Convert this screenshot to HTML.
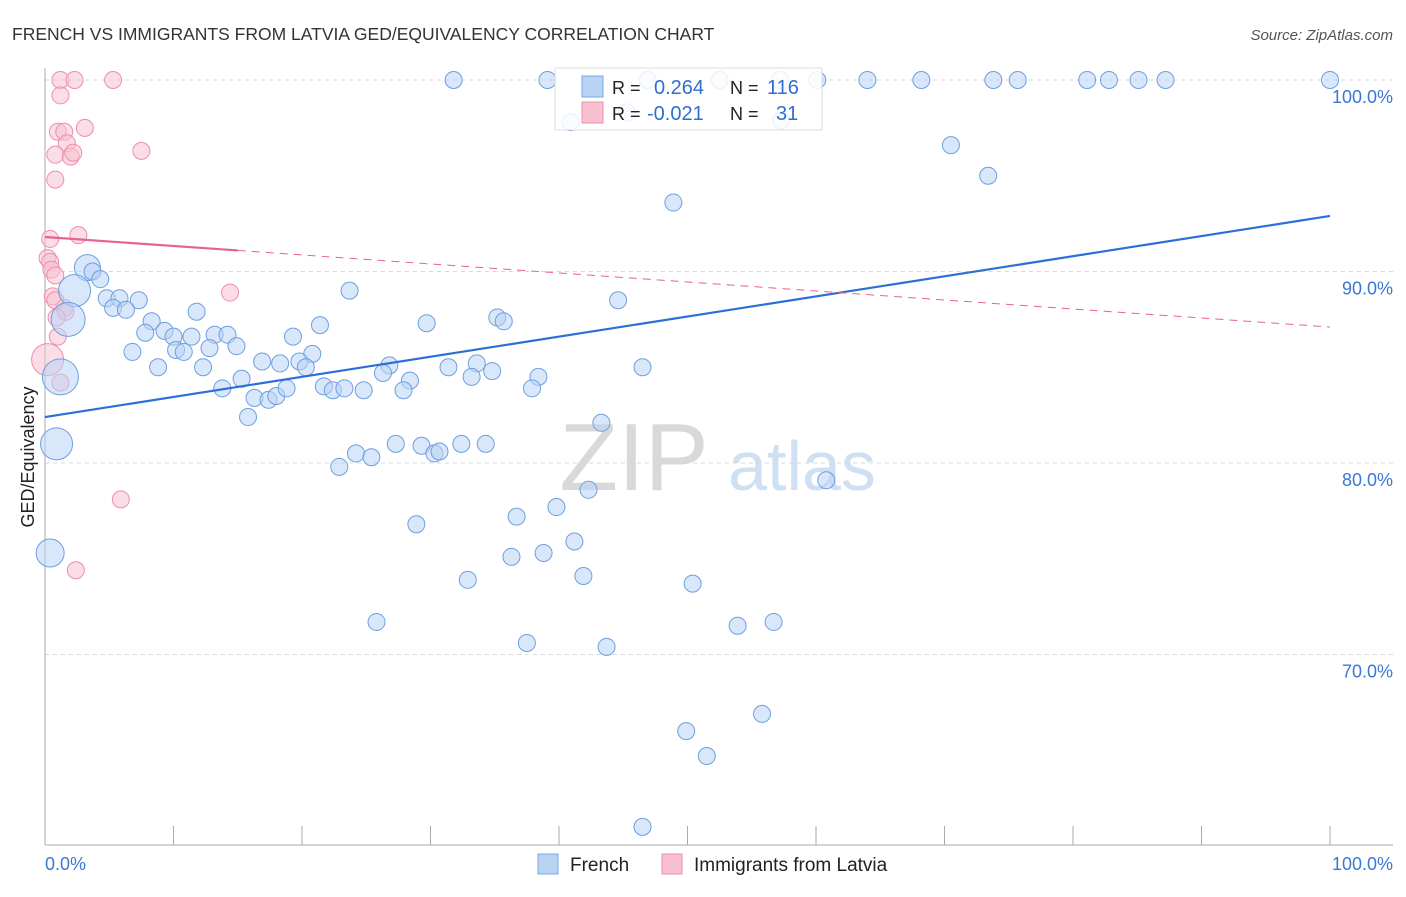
<!DOCTYPE html>
<html><head><meta charset="utf-8">
<style>
body{margin:0;background:#fff;font-family:"Liberation Sans",sans-serif;}
svg text{font-family:"Liberation Sans",sans-serif;}
</style></head>
<body>
<svg id="chart" width="1406" height="892" xmlns="http://www.w3.org/2000/svg">
<text x="12" y="40" font-size="17.5" fill="#333">FRENCH VS IMMIGRANTS FROM LATVIA GED/EQUIVALENCY CORRELATION CHART</text>
<text x="1393" y="40" font-size="15" fill="#555" font-style="italic" text-anchor="end">Source: ZipAtlas.com</text>
<text x="634" y="490" font-size="96" fill="#d9d9d9" text-anchor="middle" font-family="Liberation Serif">ZIP</text>
<text x="802" y="490" font-size="70" fill="#cfe0f3" text-anchor="middle">atlas</text>
<text transform="translate(34,457) rotate(-90)" font-size="18" fill="#222" text-anchor="middle">GED/Equivalency</text>
<g id="grid"></g><g id="axes"></g><g id="pts"></g><g id="trend"></g>
<g>
<rect x="555" y="68" width="267" height="62" fill="#fff" fill-opacity="0.85" stroke="#ddd"/>
<rect x="582" y="76" width="21" height="21" fill="#b9d3f5" stroke="#7aa7e3"/>
<rect x="582" y="102" width="21" height="21" fill="#f8c1d2" stroke="#ee8eac"/>
<text x="612" y="94" font-size="18" fill="#222">R = <tspan fill="#2f6fd0" font-size="20" x="654">0.264</tspan></text>
<text x="730" y="94" font-size="18" fill="#222">N = <tspan fill="#2f6fd0" font-size="20" x="767">116</tspan></text>
<text x="612" y="120" font-size="18" fill="#222">R = <tspan fill="#2f6fd0" font-size="20" x="647">-0.021</tspan></text>
<text x="730" y="120" font-size="18" fill="#222">N = <tspan fill="#2f6fd0" font-size="20" x="776">31</tspan></text>
</g>
<g>
<rect x="538" y="854" width="20" height="20" fill="#b9d3f5" stroke="#7aa7e3"/>
<text x="570" y="871" font-size="19" fill="#222">French</text>
<rect x="662" y="854" width="20" height="20" fill="#f8c1d2" stroke="#ee8eac"/>
<text x="694" y="871" font-size="19" fill="#222">Immigrants from Latvia</text>
</g>
</svg>
<script>
const blueX=[31.8,39.1,46.9,52.5,57.2,60.1,64.0,68.2,73.8,75.7,81.1,82.8,85.1,87.2,100,40.9,45.3,57.3,70.5,73.4,48.9,3.3,3.7,4.3,2.3,4.8,5.8,7.3,5.3,6.3,1.8,11.8,8.3,9.3,7.8,10.0,11.4,13.2,14.2,19.3,21.4,23.7,29.7,35.2,35.7,44.6,6.8,10.2,10.8,12.8,14.9,20.8,16.9,18.3,19.8,20.3,8.8,12.3,15.3,26.8,26.3,28.4,31.4,33.6,34.8,33.2,38.4,46.5,1.2,13.8,16.3,17.4,18.0,18.8,21.7,22.4,23.3,24.8,27.9,37.9,15.8,0.9,24.2,25.4,22.9,27.3,29.3,30.3,30.7,32.4,34.3,43.3,42.3,39.8,36.7,28.9,41.2,38.8,36.3,0.4,32.9,41.9,50.4,25.8,53.9,56.7,37.5,43.7,49.9,55.8,51.5,46.5,60.8];
const blueY=[100,100,100,100,100,100,100,100,100,100,100,100,100,100,100,97.8,98.3,97.9,96.6,95.0,93.6,90.2,90.0,89.6,89.0,88.6,88.6,88.5,88.1,88.0,87.5,87.9,87.4,86.9,86.8,86.6,86.6,86.7,86.7,86.6,87.2,89.0,87.3,87.6,87.4,88.5,85.8,85.9,85.8,86.0,86.1,85.7,85.3,85.2,85.3,85.0,85.0,85.0,84.4,85.1,84.7,84.3,85.0,85.2,84.8,84.5,84.5,85.0,84.5,83.9,83.4,83.3,83.5,83.9,84.0,83.8,83.9,83.8,83.8,83.9,82.4,81.0,80.5,80.3,79.8,81.0,80.9,80.5,80.6,81.0,81.0,82.1,78.6,77.7,77.2,76.8,75.9,75.3,75.1,75.3,73.9,74.1,73.7,71.7,71.5,71.7,70.6,70.4,66.0,66.9,64.7,61.0,79.1];
const blueBig={21:13,24:16,30:17,68:18,81:16,99:14};
const pinkX=[1.2,2.3,5.3,1.2,1.0,1.5,3.1,1.7,0.8,2.0,2.2,7.5,0.8,0.4,2.6,0.2,0.4,0.5,0.8,0.6,1.5,1.6,0.9,1.0,14.4,0.2,1.2,5.9,2.4,0.8];
const pinkY=[100,100,100,99.2,97.3,97.3,97.5,96.7,96.1,96.0,96.2,96.3,94.8,91.7,91.9,90.7,90.5,90.1,89.8,88.7,88.1,87.9,87.6,86.6,88.9,85.4,84.2,78.1,74.4,88.5];
const pinkBig={25:16};
const yTicks=[100,90,80,70];
const blueTrend=[0,82.4,100,92.9];
const pinkTrend=[0,91.8,15,91.1,100,87.1];
const xs=v=>45+v*12.85, ys=v=>80+(100-v)*19.15;
const NS="http://www.w3.org/2000/svg";
function mk(tag,attrs,parent){const e=document.createElementNS(NS,tag);for(const k in attrs)e.setAttribute(k,attrs[k]);document.getElementById(parent).appendChild(e);return e;}
yTicks.forEach(t=>{
 const l=mk('line',{x1:45,x2:1393,y1:ys(t),y2:ys(t),stroke:'#d8d8d8','stroke-dasharray':'4,4'},'grid');
 
 
 const tx=mk('text',{x:1393,y:ys(t)+23,'font-size':18,fill:'#3a78d4','text-anchor':'end'},'grid');
 tx.textContent=t.toFixed(1)+'%';
 
 
});
let a=mk('line',{x1:45,x2:45,y1:68,y2:845,stroke:'#aaa'},'axes');


a=mk('line',{x1:45,x2:1393,y1:845,y2:845,stroke:'#aaa'},'axes');


for(let i=1;i<=10;i++){const t=mk('line',{x1:xs(i*10),x2:xs(i*10),y1:826,y2:845,stroke:'#aaa'},'axes');
 
 }
let xl=mk('text',{x:45,y:870,'font-size':18,fill:'#3a78d4'},'axes');xl.textContent='0.0%';


xl=mk('text',{x:1393,y:870,'font-size':18,fill:'#3a78d4','text-anchor':'end'},'axes');xl.textContent='100.0%';


pinkX.forEach((x,i)=>{const c=mk('circle',{cx:xs(x),cy:ys(pinkY[i]),r:pinkBig[i]||8.5,fill:'#f8c1d2','fill-opacity':0.55,stroke:'#ee8eac','stroke-width':1},'pts');
 
 });
blueX.forEach((x,i)=>{const c=mk('circle',{cx:xs(x),cy:ys(blueY[i]),r:blueBig[i]||8.5,fill:'#b9d3f5','fill-opacity':0.55,stroke:'#6e9fe0','stroke-width':1},'pts');
 
 });
let tl=mk('line',{x1:xs(blueTrend[0]),y1:ys(blueTrend[1]),x2:xs(blueTrend[2]),y2:ys(blueTrend[3]),stroke:'#2a6fd6','stroke-width':2.2},'trend');


tl=mk('line',{x1:xs(pinkTrend[0]),y1:ys(pinkTrend[1]),x2:xs(pinkTrend[2]),y2:ys(pinkTrend[3]),stroke:'#e8628e','stroke-width':2.2},'trend');


tl=mk('line',{x1:xs(pinkTrend[2]),y1:ys(pinkTrend[3]),x2:xs(pinkTrend[4]),y2:ys(pinkTrend[5]),stroke:'#e8628e','stroke-width':1,'stroke-dasharray':'8,6'},'trend');


</script>
</body></html>
